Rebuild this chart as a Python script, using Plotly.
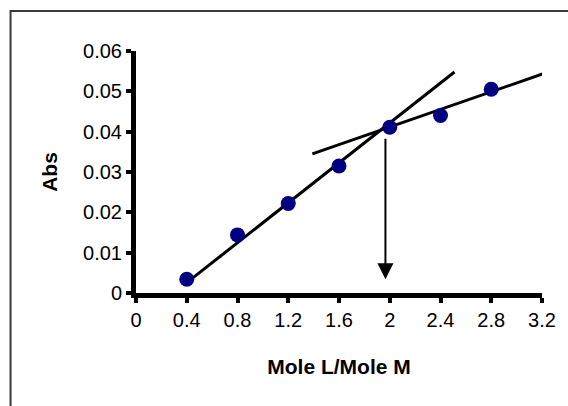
import plotly.graph_objects as go

# Data
ratio = [0.4, 0.8, 1.2, 1.6, 2.0, 2.4, 2.8]
absorbance = [0.0034, 0.0144, 0.0222, 0.0315, 0.0411, 0.0440, 0.0505]

# Tangent lines
fit1_x = [0.43, 2.51]
fit1_y = [0.0033, 0.0548]
fit2_x = [1.39, 3.25]
fit2_y = [0.0345, 0.0548]

# Arrow marking the break point
arrow_x = 1.966
arrow_y_from = 0.0386
arrow_y_to = 0.0034

x_ticks = [0, 0.4, 0.8, 1.2, 1.6, 2.0, 2.4, 2.8, 3.2]
x_ticktext = ["0", "0.4", "0.8", "1.2", "1.6", "2", "2.4", "2.8", "3.2"]
y_ticks = [0, 0.01, 0.02, 0.03, 0.04, 0.05, 0.06]
y_ticktext = ["0", "0.01", "0.02", "0.03", "0.04", "0.05", "0.06"]

FONT = "Liberation Sans, Arial, sans-serif"

fig = go.Figure()
fig.add_trace(go.Scatter(x=fit1_x, y=fit1_y, mode="lines",
                         line=dict(color="black", width=3), cliponaxis=False,
                         showlegend=False, hoverinfo="skip"))
fig.add_trace(go.Scatter(x=fit2_x, y=fit2_y, mode="lines",
                         line=dict(color="black", width=3), cliponaxis=False,
                         showlegend=False, hoverinfo="skip"))
fig.add_trace(go.Scatter(x=ratio, y=absorbance, mode="markers",
                         marker=dict(color="#000080", size=15, line=dict(width=0)),
                         cliponaxis=False, showlegend=False))

fig.add_annotation(x=arrow_x, y=arrow_y_to, ax=arrow_x, ay=arrow_y_from,
                   xref="x", yref="y", axref="x", ayref="y",
                   showarrow=True, arrowhead=2, arrowsize=1.6, arrowwidth=2,
                   arrowcolor="black", text="", standoff=0, startstandoff=0)

# outer frame
fig.add_shape(type="rect", xref="paper", yref="paper",
              x0=-0.309, y0=-0.6, x1=1.3, y1=1.165,
              line=dict(color="#3a3a3a", width=2), fillcolor="rgba(0,0,0,0)",
              layer="below")

fig.update_layout(
    width=568, height=406,
    margin=dict(l=136, r=24, t=51, b=113),
    paper_bgcolor="white", plot_bgcolor="white",
    font=dict(family=FONT, color="black", size=20),
    xaxis=dict(range=[0, 3.2], tickvals=x_ticks, ticktext=x_ticktext,
               showgrid=False, zeroline=False, showline=True, linewidth=5,
               linecolor="black", ticks="outside", ticklen=5, tickwidth=4,
               tickcolor="black", tickfont=dict(size=20),
               title=dict(text="<b>Mole L/Mole M</b>", font=dict(size=21), standoff=31)),
    yaxis=dict(range=[0, 0.06], tickvals=y_ticks, ticktext=y_ticktext,
               showgrid=False, zeroline=False, showline=True, linewidth=5,
               linecolor="black", ticks="outside", ticklen=5, tickwidth=4,
               tickcolor="black", tickfont=dict(size=20),
               title=dict(text="<b>Abs</b>", font=dict(size=21), standoff=21)),
)

fig.write_html("out.html", config={"displayModeBar": False},
               post_script="document.body.style.margin='0';")
